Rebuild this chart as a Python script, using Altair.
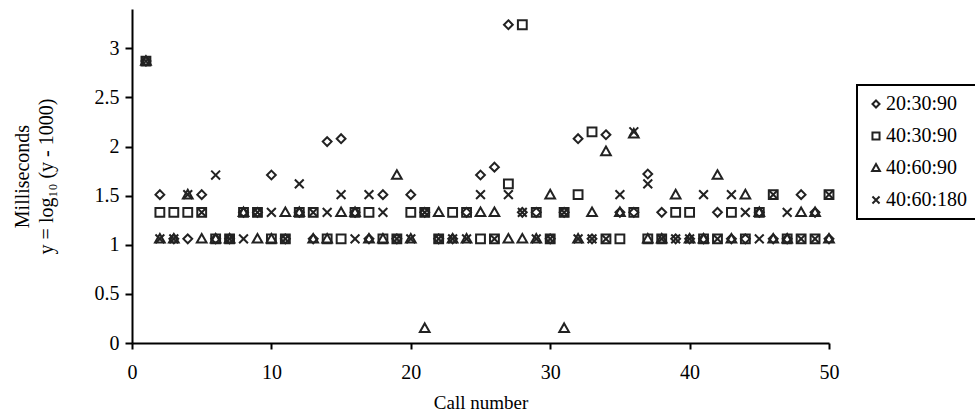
import altair as alt
import pandas as pd

calls = list(range(1, 51))
series_names = ["20:30:90", "40:30:90", "40:60:90", "40:60:180"]

s_20_30_90 = [2.87, 1.51, 1.06, 1.06, 1.51, 1.06, 1.06, 1.33, 1.33, 1.71,
              1.06, 1.33, 1.06, 2.05, 2.08, 1.33, 1.06, 1.51, 1.06, 1.51,
              1.33, 1.06, 1.06, 1.33, 1.71, 1.79, 3.24, 1.33, 1.33, 1.06,
              1.33, 2.08, 1.06, 2.12, 1.33, 1.33, 1.72, 1.33, 1.06, 1.06,
              1.06, 1.33, 1.06, 1.06, 1.33, 1.06, 1.06, 1.51, 1.33, 1.06]
s_40_30_90 = [2.87, 1.33, 1.33, 1.33, 1.33, 1.06, 1.06, 1.33, 1.33, 1.06,
              1.06, 1.33, 1.33, 1.06, 1.06, 1.33, 1.33, 1.06, 1.06, 1.33,
              1.33, 1.06, 1.33, 1.33, 1.06, 1.06, 1.62, 3.24, 1.33, 1.06,
              1.33, 1.51, 2.15, 1.06, 1.06, 1.33, 1.06, 1.06, 1.33, 1.33,
              1.06, 1.06, 1.33, 1.06, 1.33, 1.51, 1.06, 1.06, 1.06, 1.51]
s_40_60_90 = [2.87, 1.06, 1.06, 1.51, 1.06, 1.06, 1.06, 1.33, 1.06, 1.06,
              1.33, 1.33, 1.06, 1.06, 1.33, 1.33, 1.06, 1.06, 1.71, 1.06,
              0.15, 1.33, 1.06, 1.06, 1.33, 1.33, 1.06, 1.06, 1.06, 1.51,
              0.15, 1.06, 1.33, 1.95, 1.33, 2.13, 1.06, 1.06, 1.51, 1.06,
              1.06, 1.71, 1.06, 1.51, 1.33, 1.06, 1.06, 1.33, 1.33, 1.06]
s_40_60_180 = [2.87, 1.06, 1.06, 1.51, 1.33, 1.71, 1.06, 1.06, 1.33, 1.33,
               1.06, 1.62, 1.33, 1.33, 1.51, 1.06, 1.51, 1.33, 1.06, 1.06,
               1.33, 1.06, 1.06, 1.06, 1.51, 1.06, 1.51, 1.33, 1.06, 1.06,
               1.33, 1.06, 1.06, 1.06, 1.51, 2.15, 1.62, 1.06, 1.06, 1.06,
               1.51, 1.06, 1.51, 1.33, 1.06, 1.51, 1.33, 1.06, 1.06, 1.51]

x_ticks = [0, 10, 20, 30, 40, 50]
y_ticks = [0, 0.5, 1, 1.5, 2, 2.5, 3]

rows = []
for name, vals in zip(series_names, [s_20_30_90, s_40_30_90, s_40_60_90, s_40_60_180]):
    for n, v in zip(calls, vals):
        rows.append({"call": n, "ms": v, "series": name})
df = pd.DataFrame(rows)

shape_paths = [
    "M0,-1L1,0L0,1L-1,0Z",
    "M-1,-1H1V1H-1Z",
    "M0,-1.1L1.1,0.85H-1.1Z",
    "M-1,-1L1,1M-1,1L1,-1",
]

FONT = "Liberation Serif"

chart = alt.Chart(df).mark_point(
    filled=False, strokeWidth=2, color="#222222", opacity=1, size=78
).encode(
    x=alt.X("call:Q",
            scale=alt.Scale(domain=[0, 50], nice=False, zero=True),
            axis=alt.Axis(values=x_ticks, title="Call number", grid=False,
                          domainColor="black", domainWidth=2, tickColor="black",
                          tickWidth=2, tickSize=6, labelPadding=13,
                          labelFontSize=20, titleFontSize=19, titleFontWeight="normal",
                          titlePadding=11, labelColor="black", titleColor="black",
                          labelFlush=False)),
    y=alt.Y("ms:Q",
            scale=alt.Scale(domain=[0, 3.4], nice=False),
            axis=alt.Axis(values=y_ticks, format="~g",
                          title=["Milliseconds", "y = log\u2081\u2080 (y - 1000)"],
                          grid=False, domainColor="black", domainWidth=2,
                          tickColor="black", tickWidth=2, tickSize=7, labelPadding=6,
                          labelFontSize=20, titleFontSize=20, titleFontWeight="normal",
                          titleLineHeight=24, titleX=-104, titleY=167,
                          titleAlign="center", titleBaseline="alphabetic",
                          labelColor="black", titleColor="black", labelFlush=False)),
    shape=alt.Shape("series:N",
                    scale=alt.Scale(domain=series_names, range=shape_paths),
                    legend=alt.Legend(title=None, orient="none", legendX=725, legendY=76,
                                      strokeColor="black", fillColor="white",
                                      padding=9, rowPadding=12,
                                      labelFontSize=20, labelFont=FONT, labelColor="black",
                                      symbolSize=50, symbolStrokeWidth=2,
                                      symbolStrokeColor="#222222", labelOffset=0)),
).properties(
    width=697, height=334,
    autosize=alt.AutoSizeParams(type="none"),
    padding={"left": 132, "top": 9, "right": 146, "bottom": 74},
).configure(
    font=FONT
).configure_view(
    stroke=None
).configure_legend(
    strokeWidth=2, cornerRadius=0
)

chart.save("out.html", embed_options={"renderer": "svg", "actions": False})
